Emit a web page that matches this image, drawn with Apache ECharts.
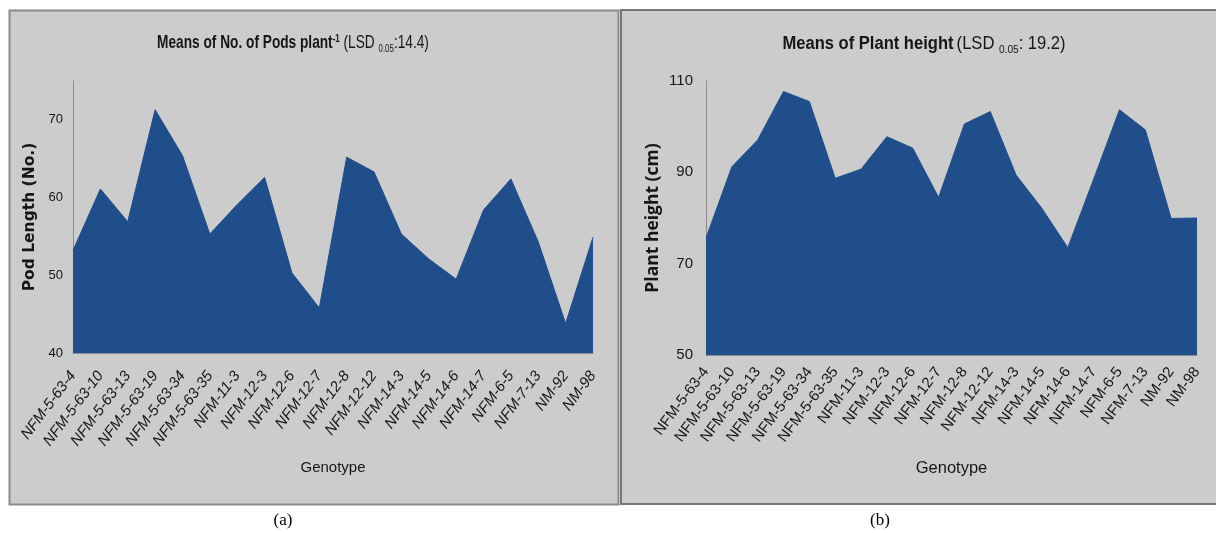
<!DOCTYPE html>
<html>
<head>
<meta charset="utf-8">
<title>Genotype means: pods per plant and plant height</title>
<script src="https://cdn.jsdelivr.net/npm/echarts@6/dist/echarts.min.js"></script>
<style>
  html, body { margin: 0; padding: 0; background: #ffffff; }
  #chart { width: 1216px; height: 533px; }
</style>
</head>
<body>
<div id="chart"></div>
<script>
// Genotypes shown on both category axes
const genotypes = [
  'NFM-5-63-4', 'NFM-5-63-10', 'NFM-5-63-13', 'NFM-5-63-19', 'NFM-5-63-34',
  'NFM-5-63-35', 'NFM-11-3', 'NFM-12-3', 'NFM-12-6', 'NFM-12-7',
  'NFM-12-8', 'NFM-12-12', 'NFM-14-3', 'NFM-14-5', 'NFM-14-6',
  'NFM-14-7', 'NFM-6-5', 'NFM-7-13', 'NM-92', 'NM-98'
];

// (a) mean number of pods per plant
const podsPerPlant = [
  53.2, 61.1, 56.9, 71.3, 65.4, 55.3, 59.1, 62.6, 50.3, 45.8,
  65.2, 63.3, 55.3, 52.1, 49.5, 58.4, 62.4, 54.3, 43.8, 54.9
];

// (b) mean plant height (cm)
const plantHeight = [
  75.6, 91.2, 97.1, 107.7, 105.5, 88.7, 90.7, 97.8, 95.3, 84.5,
  100.6, 103.3, 89.4, 82.1, 73.5, 88.5, 103.7, 99.3, 79.9, 80.0
];

// value-axis ranges
const podsAxis = { min: 40, max: 75, interval: 10 };
const heightAxis = { min: 50, max: 110, interval: 20 };

const AREA = '#1f4e8a';
const PANEL = '#cccccc';
const INK = '#161616';
const SANS = '"Liberation Sans", Arial, sans-serif';

// rich-text styles for the panel headings (bold lead, plain LSD note, sup/sub)
function titleRich(base) {
  return {
    b: { fontFamily: SANS, fontWeight: 'bold', fontSize: base, fill: INK, lineHeight: 26 },
    n: { fontFamily: SANS, fontWeight: 'normal', fontSize: base, fill: INK, lineHeight: 26 },
    sup: { fontFamily: SANS, fontWeight: 'bold', fontSize: 11, fill: INK, lineHeight: 26, verticalAlign: 'top', padding: [3, 0, 0, 0] },
    sub: { fontFamily: SANS, fontWeight: 'normal', fontSize: 11, fill: INK, lineHeight: 26, verticalAlign: 'bottom', padding: [0, 0, 2, 0] }
  };
}

function catAxis(gridIndex, italic, margin, nameSize, nameGap) {
  return {
    type: 'category',
    gridIndex: gridIndex,
    data: genotypes,
    boundaryGap: false,
    axisLine: { lineStyle: { color: '#8c8c8c', width: 1 } },
    axisTick: { show: false },
    axisLabel: {
      interval: 0,
      rotate: 53,
      margin: margin,
      fontFamily: SANS,
      fontSize: 15,
      fontStyle: italic ? 'italic' : 'normal',
      color: INK
    },
    name: 'Genotype',
    nameLocation: 'middle',
    nameGap: nameGap,
    nameTextStyle: { fontFamily: SANS, fontSize: nameSize, color: INK }
  };
}

const chart = echarts.init(document.getElementById('chart'), null, { renderer: 'canvas' });

chart.setOption({
  backgroundColor: '#ffffff',
  animation: false,
  graphic: [
    { type: 'rect', z: -10, shape: { x: 9.5, y: 10.5, width: 609, height: 494 },
      style: { fill: PANEL, stroke: '#8a8a8a', lineWidth: 2 } },
    { type: 'rect', z: -10, shape: { x: 621, y: 10, width: 600, height: 494 },
      style: { fill: PANEL, stroke: '#777777', lineWidth: 2 } },
    // panel headings
    { type: 'text', x: 293, y: 43, scaleX: 0.72, z: 10,
      style: {
        text: '{b|Means of No. of Pods plant}{sup|-1}{n| (LSD }{sub|0.05}{n|:14.4)}',
        rich: titleRich(19), align: 'center', verticalAlign: 'middle'
      } },
    { type: 'text', x: 924, y: 44, scaleX: 0.92, z: 10,
      style: {
        text: '{b|Means of Plant height} {n|(LSD }{sub|0.05}{n|: 19.2)}',
        rich: titleRich(18), align: 'center', verticalAlign: 'middle'
      } },
    // panel captions
    { type: 'text', x: 283, y: 521, z: 10,
      style: { text: '(a)', font: '17px "Liberation Serif", "Times New Roman", serif', fill: '#000', align: 'center', verticalAlign: 'middle' } },
    { type: 'text', x: 880, y: 521, z: 10,
      style: { text: '(b)', font: '17px "Liberation Serif", "Times New Roman", serif', fill: '#000', align: 'center', verticalAlign: 'middle' } }
  ],
  grid: [
    { left: 73, right: 623, top: 81, bottom: 180 },
    { left: 706, right: 19, top: 81, bottom: 178 }
  ],
  xAxis: [catAxis(0, true, 20, 15, 107), catAxis(1, false, 14, 16.5, 105)],
  yAxis: [
    {
      type: 'value', gridIndex: 0,
      min: podsAxis.min, max: podsAxis.max, interval: podsAxis.interval,
      axisLine: { show: true, lineStyle: { color: '#8c8c8c' } },
      axisTick: { show: false },
      splitLine: { show: false },
      axisLabel: { showMaxLabel: false, margin: 10, fontFamily: SANS, fontSize: 13, color: INK },
      name: 'Pod Length (No.)',
      nameLocation: 'middle', nameRotate: 90, nameGap: 35,
      nameTextStyle: { fontFamily: '"DejaVu Sans", Verdana, sans-serif', fontWeight: 'bold', fontSize: 15.5, color: INK }
    },
    {
      type: 'value', gridIndex: 1,
      min: heightAxis.min, max: heightAxis.max, interval: heightAxis.interval,
      axisLine: { show: true, lineStyle: { color: '#8c8c8c' } },
      axisTick: { show: false },
      splitLine: { show: false },
      axisLabel: { margin: 13, fontFamily: SANS, fontSize: 15, color: INK },
      name: 'Plant height (cm)',
      nameLocation: 'middle', nameRotate: 90, nameGap: 44,
      nameTextStyle: { fontFamily: '"Open Sans", "Liberation Sans", sans-serif', fontWeight: 'bold', fontSize: 17.5, color: INK }
    }
  ],
  series: [
    {
      type: 'line', xAxisIndex: 0, yAxisIndex: 0,
      data: podsPerPlant,
      symbol: 'none',
      lineStyle: { color: AREA, width: 1 },
      areaStyle: { color: AREA, opacity: 1, origin: 'start' }
    },
    {
      type: 'line', xAxisIndex: 1, yAxisIndex: 1,
      data: plantHeight,
      symbol: 'none',
      lineStyle: { color: AREA, width: 1 },
      areaStyle: { color: AREA, opacity: 1, origin: 'start' }
    }
  ]
});
</script>
</body>
</html>
